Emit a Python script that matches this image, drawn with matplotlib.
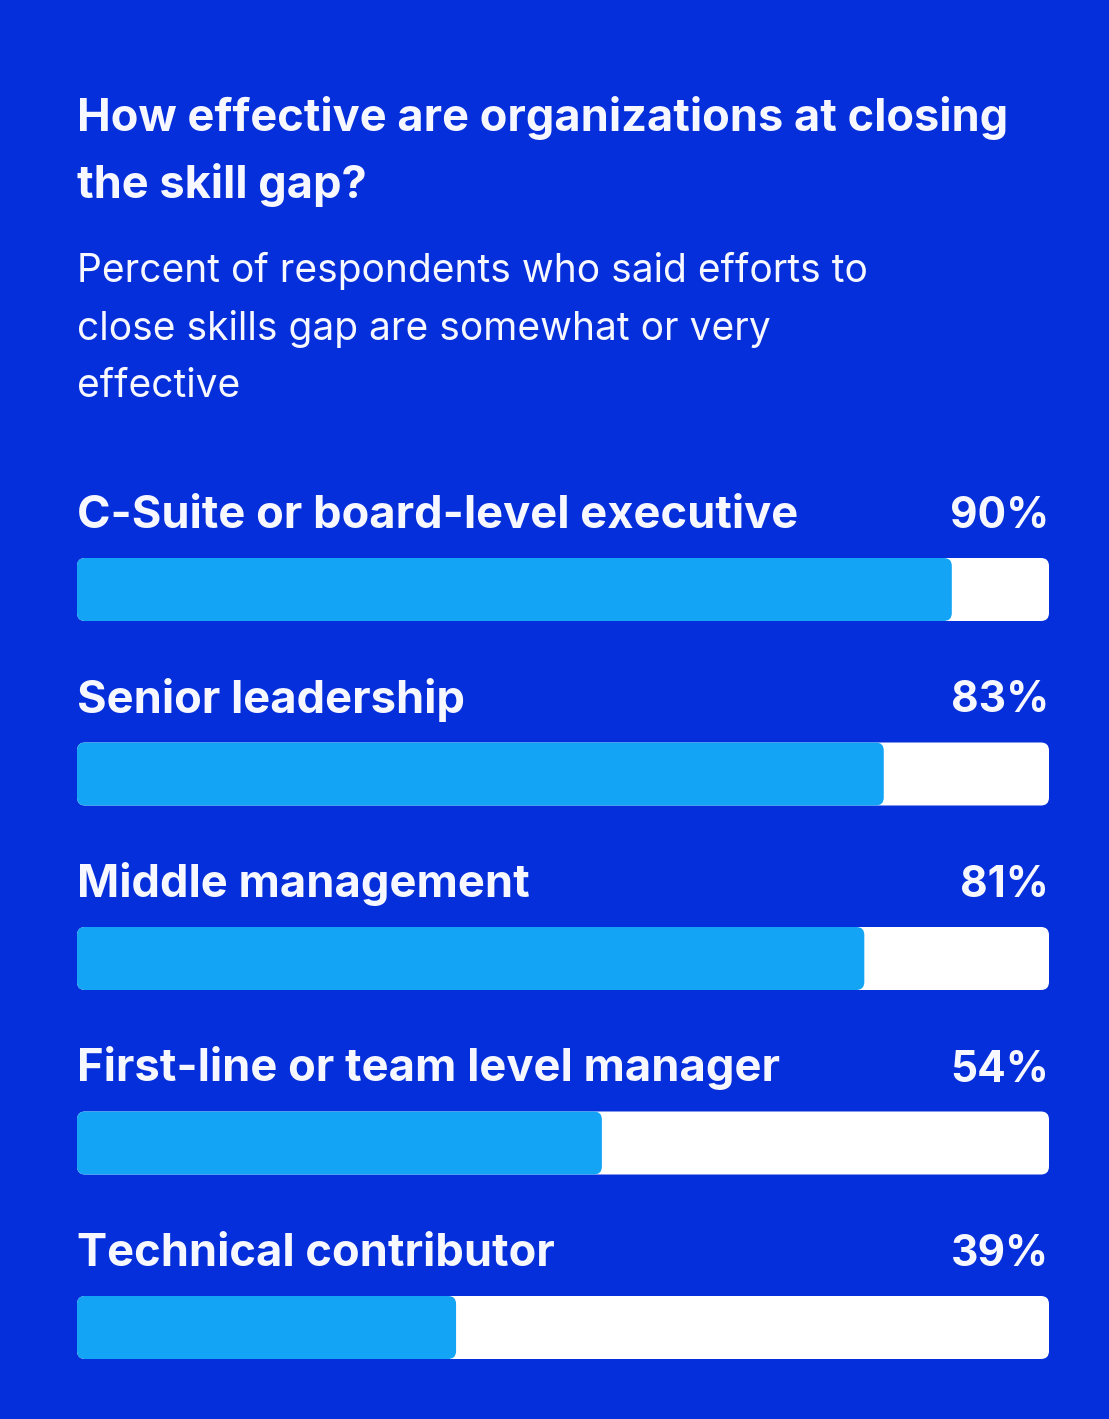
import matplotlib
matplotlib.use("Agg")
import matplotlib.pyplot as plt
from matplotlib.patches import FancyBboxPatch

# data
categories = ["C-Suite or board-level executive", "Senior leadership",
              "Middle management", "First-line or team level manager",
              "Technical contributor"]
values = [90, 83, 81, 54, 39]

title_lines = ["How effective are organizations at closing", "the skill gap?"]
subtitle_lines = ["Percent of respondents who said efforts to",
                  "close skills gap are somewhat or very",
                  "effective"]

# colours
bg = "#052fdb"
fill_col = "#13a4f6"
track_col = "#ffffff"
text_col = "#f7f8ff"

W, H = 1109, 1419
plt.rcParams["font.family"] = ["Inter", "DejaVu Sans"]

fig = plt.figure(figsize=(W / 100, H / 100), dpi=100, facecolor=bg)

# axes spans the track width, y in pixels from the top
ax = fig.add_axes([77 / W, 0, 972 / W, 1])
ax.set_xlim(0, 100)
ax.set_ylim(H, 0)
ax.axis("off")

px_per_x = 972 / 100
radius = 8 / px_per_x
bar_h = 63
first_top = 558
step = 184.5

for i, (cat, val) in enumerate(zip(categories, values)):
    top = first_top + i * step
    track = FancyBboxPatch((0, top), 100, bar_h,
                           boxstyle=f"round,pad=0,rounding_size={radius}",
                           mutation_aspect=px_per_x, fc=track_col, ec="none")
    ax.add_patch(track)
    bar = FancyBboxPatch((0, top), val, bar_h,
                         boxstyle=f"round,pad=0,rounding_size={radius}",
                         mutation_aspect=px_per_x, fc=fill_col, ec="none")
    ax.add_patch(bar)
    ax.text(0, top - 30, cat, color=text_col, fontsize=32.6, fontweight="bold",
            ha="left", va="baseline")
    ax.text(100, top - 30, f"{val}%", color=text_col, fontsize=30.5,
            fontweight="bold", ha="right", va="baseline")

# title and subtitle, one line at a time
for j, line in enumerate(title_lines):
    ax.text(0, 131 + j * 67, line, color=text_col, fontsize=32.5,
            fontweight="bold", ha="left", va="baseline")
for j, line in enumerate(subtitle_lines):
    ax.text(0, 282 + j * 57.5, line, color=text_col, fontsize=28,
            ha="left", va="baseline")

fig.savefig("out.png", dpi=100, facecolor=bg)
